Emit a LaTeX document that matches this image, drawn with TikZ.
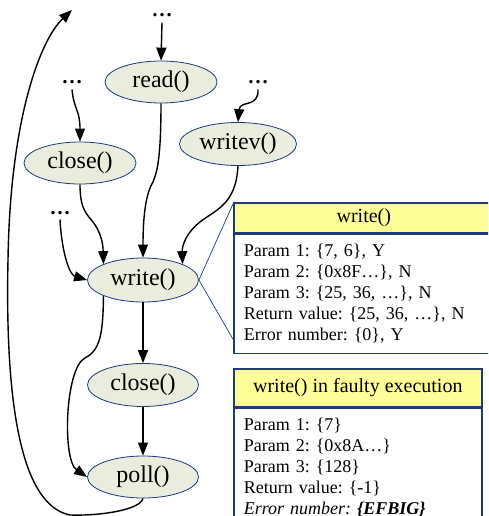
\documentclass[tikz,border=0pt]{standalone}
\usepackage{fontspec}
\setmainfont{Liberation Serif}
\usetikzlibrary{shapes.geometric,arrows.meta}
\definecolor{ellfill}{RGB}{234,237,221}
\definecolor{navy}{RGB}{31,58,122}
\definecolor{hdrfill}{RGB}{255,255,153}
\frenchspacing
\tikzset{
  call/.style={ellipse,draw=navy,line width=0.8pt,fill=ellfill,minimum width=112pt,minimum height=42pt,inner sep=0pt,font=\fontsize{24}{28}\selectfont},
  dotsnode/.style={inner sep=0pt,anchor=base,font=\bfseries\fontsize{21}{26}\selectfont},
  edge/.style={line width=1.4pt,-{Triangle[length=13pt,width=10pt]}},
  hdr/.style={draw=navy,line width=1.6pt,fill=hdrfill,anchor=north west,inner sep=0pt,font=\fontsize{20}{24}\selectfont},
  bodybox/.style={draw=navy,line width=1.6pt,fill=white,anchor=north west,inner xsep=10pt,inner ysep=0pt,align=left,font=\fontsize{18}{21}\selectfont},
  callout/.style={draw=navy,line width=0.7pt}
}
\begin{document}
\begin{tikzpicture}[x=1pt,y=-1pt]
\clip (0,0) rectangle (488,516);
\fill[white] (0,0) rectangle (488,516);
% nodes
\node[call] (read) at (161,82) {read()};
\node[call] (closeA) at (80,163) {close()};
\node[call,minimum width=117pt,minimum height=43pt] (writev) at (238,144) {writev()};
\node[call,minimum width=111pt,minimum height=44pt] (write) at (143,280) {write()};
\node[call,minimum width=111pt,minimum height=43pt] (closeB) at (143,385) {close()};
\node[call,minimum width=111pt,minimum height=42pt] (poll) at (143,477) {poll()};
\node[dotsnode] (dt) at (162,17) {…};
\node[dotsnode] (dl) at (72,84) {…};
\node[dotsnode] (dr) at (258,84) {…};
\node[dotsnode] (dm) at (60,214) {…};
\coordinate (topend) at (72,10);
% boxes
\node[hdr,minimum width=260pt,minimum height=30pt] (h1) at (233,202) {write()};
\node[bodybox,text width=240pt,minimum height=119pt] (b1) at (h1.south west) {Param 1: \{7, 6\}, Y\\Param 2: \{0x8F…\}, N\\Param 3: \{25, 36, …\}, N\\Return value: \{25, 36, …\}, N\\Error number: \{0\}, Y};
\node[hdr,minimum width=248pt,minimum height=38pt] (h2) at (233,368) {write() in faulty execution};
\node[bodybox,text width=228pt,minimum height=119pt] (b2) at (h2.south west) {Param 1: \{7\}\\Param 2: \{0x8A…\}\\Param 3: \{128\}\\Return value: \{-1\}\\\textit{Error number: \textbf{\{EFBIG\}}}};
% callout lines
\draw[callout] (write.east) -- ([yshift=-2pt]h1.north west);
\draw[callout] (write.east) -- ([yshift=15pt]b1.south west);
% edges
\draw[edge] ([yshift=-5pt]dt.south) -- (read.north);
\draw[edge] ([yshift=-5pt]dl.south) .. controls (74,110) and (80,110) .. (closeA.north);
\draw[edge] ([yshift=-5pt]dr.south) .. controls (259,108) and (240,100) .. (writev.north);
\draw[edge] (read.south) .. controls (161,170) and (155,175) .. (153,182) .. controls (145,195) and (143,220) .. (write.north);
\draw[edge] (closeA.south) .. controls (80,215) and (90,215) .. (97,228) .. controls (102,238) and (103,245) .. (write.north west);
\draw[edge] (writev.south) .. controls (236,205) and (215,210) .. (200,222) .. controls (187,232) and (182,245) .. (write.north east);
\draw[edge] ([yshift=-5pt]dm.south) .. controls (62,255) and (70,275) .. (write.west);
\draw[edge] (write.south) -- (closeB.north);
\draw[edge] (closeB.south) -- (poll.north);
\draw[edge] (write.south west) .. controls (103,335) and (100,350) .. (85,358) .. controls (65,368) and (62,460) .. (poll.west);
\draw[edge] (poll.south) .. controls (140,510) and (100,516) .. (70,515) .. controls (20,505) and (5,400) .. (8,260) .. controls (10,120) and (40,40) .. (topend);
\end{tikzpicture}
\end{document}
